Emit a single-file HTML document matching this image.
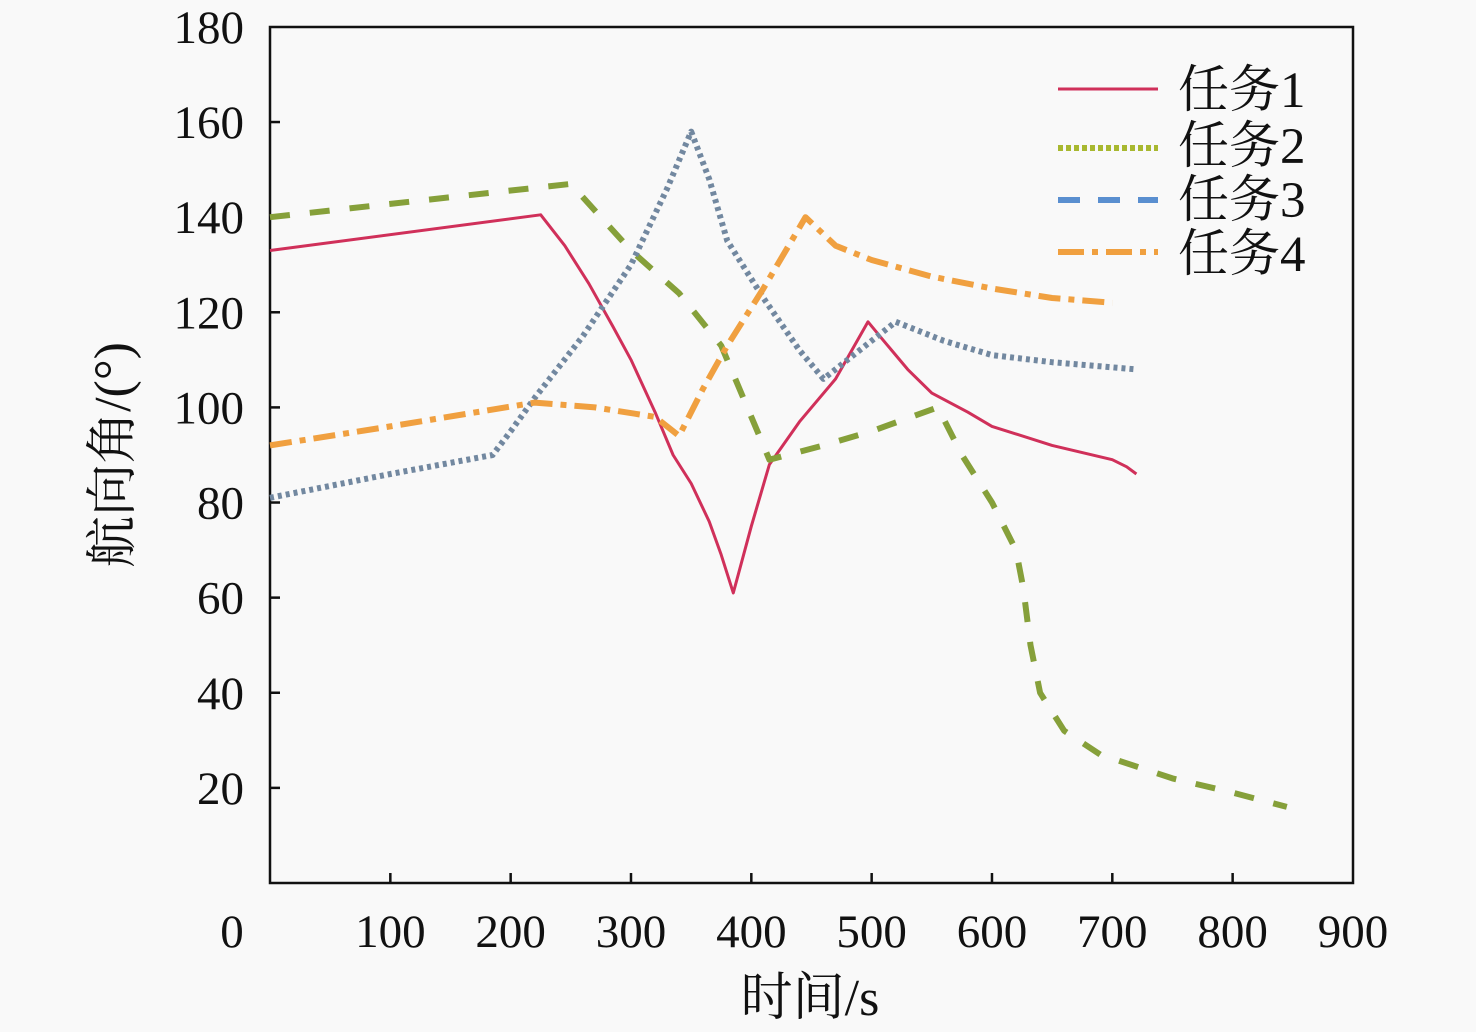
<!DOCTYPE html>
<html><head><meta charset="utf-8"><style>
html,body{margin:0;padding:0;background:#f9f9f9;}
svg{display:block}
text{font-family:"Liberation Serif","Noto Serif CJK SC","Noto Sans CJK SC",serif;fill:#111}
</style></head><body>
<svg id="s" width="1476" height="1032" viewBox="0 0 1476 1032" xmlns="http://www.w3.org/2000/svg">
<rect x="0" y="0" width="1476" height="1032" fill="#f9f9f9"/>
<rect x="270" y="27" width="1083" height="856" fill="none" stroke="#111" stroke-width="2.5"/>
<g id="ticks" stroke="#111" stroke-width="2.5"></g>
<g id="labels" font-size="47"></g>
<g id="series" fill="none" stroke-linejoin="round"></g>
<text x="810" y="1015" font-size="52" text-anchor="middle">时间/s</text>
<text transform="translate(130,455) rotate(-90)" font-size="52" text-anchor="middle">航向角/(°)</text>
<g font-size="51">
<line x1="1058" y1="89" x2="1158" y2="89" stroke="#d0305a" stroke-width="3"/>
<text x="1178" y="107">任务1</text>
<line x1="1058" y1="148" x2="1158" y2="148" stroke="#a8b830" stroke-width="6" stroke-dasharray="5,3"/>
<text x="1178" y="163">任务2</text>
<line x1="1058" y1="200" x2="1158" y2="200" stroke="#5a8fd0" stroke-width="6" stroke-dasharray="22,18"/>
<text x="1178" y="217">任务3</text>
<line x1="1058" y1="252" x2="1158" y2="252" stroke="#f0a040" stroke-width="6" stroke-dasharray="26,8,6,8"/>
<text x="1178" y="271">任务4</text>
</g>
</svg>
<script>
var NS="http://www.w3.org/2000/svg";
function X(t){return 270+t*1.2033;}
function Y(v){return 883-v*4.756;}
var tk=document.getElementById('ticks'),lb=document.getElementById('labels');
function el(p,tag,a,txt){var e=document.createElementNS(NS,tag);for(var k in a)e.setAttribute(k,a[k]);if(txt!=null)e.textContent=txt;p.appendChild(e);return e;}
for(var i=0;i<=9;i++){var x=X(i*100);
 if(i>0&&i<9)el(tk,'line',{x1:x,y1:883,x2:x,y2:873});
 el(lb,'text',{x:(i==0?232:x),y:947,'text-anchor':'middle'},String(i*100));}
for(var v=20;v<=180;v+=20){var y=Y(v);
 if(v<180)el(tk,'line',{x1:270,y1:y,x2:280,y2:y});
 el(lb,'text',{x:244,y:y+16,'text-anchor':'end'},String(v));}
var S=document.getElementById('series');
function path(pts,a){var d='';pts.forEach(function(p,i){d+=(i?'L':'M')+X(p[0]).toFixed(1)+','+Y(p[1]).toFixed(1)+' ';});a.d=d;el(S,'path',a);}
path([[0,133],[225,140.5],[245,134],[265,126],[285,117],[300,110],[320,99],[335,90],[350,84],[365,76],[375,69],[385,61],[400,75],[415,88],[440,97],[470,106],[497,118],[510,114],[530,108],[550,103],[580,99],[600,96],[650,92],[700,89],[712,87.5],[720,86]],{stroke:'#d0305a','stroke-width':3});
path([[0,140],[250,147],[300,133],[340,124],[375,113],[395,101],[415,89],[460,92],[500,95],[555,100],[575,90],[600,80],[612,74],[620,70],[626,62],[632,50],[640,40],[660,32],[690,27],[750,22],[800,19],[845,16]],{stroke:'#86a03a','stroke-width':6,'stroke-dasharray':'20,20'});
path([[0,81],[100,86],[185,90],[200,95],[220,102],[260,115],[300,130],[330,146],[350,158],[365,148],[380,135],[410,123],[440,112],[460,106],[490,112],[520,118],[560,114],[600,111],[650,109.5],[720,108]],{stroke:'#7288a0','stroke-width':6,'stroke-dasharray':'4,4'});
path([[0,92],[100,96],[220,101],[270,100],[320,98],[340,94],[360,104],[380,113],[410,125],[445,140],[470,134],[500,131],[550,127.5],[600,125],[650,123],[700,122]],{stroke:'#f0a040','stroke-width':6,'stroke-dasharray':'22,8,6,8'});
</script>
</body></html>
